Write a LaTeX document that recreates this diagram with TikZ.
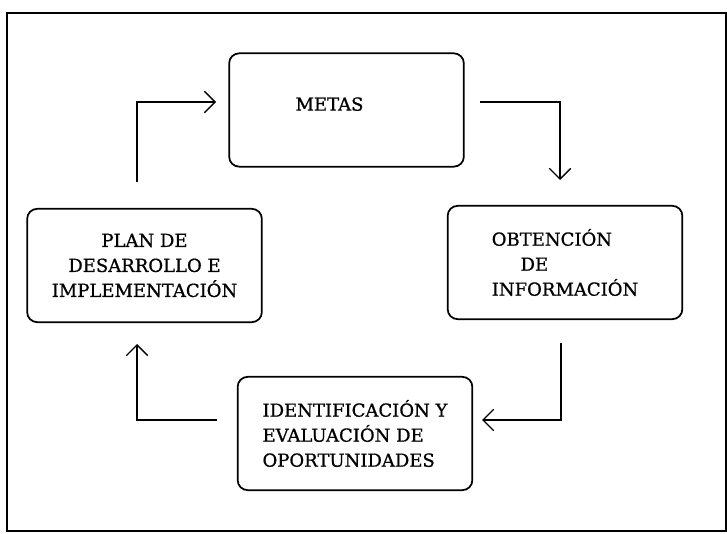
\documentclass[tikz,border=0pt]{standalone}
\usepackage{fontspec}
\setmainfont{DejaVu Serif}[FakeBold=0.8]
\usetikzlibrary{arrows.meta}

\tikzset{
  stage/.style={shape=rectangle,rounded corners=7.5pt,draw,line width=1.3pt,
    minimum width=176pt,minimum height=85pt,inner sep=0pt,
    font=\fontsize{13.5}{18.75}\selectfont},
  flow/.style={line width=1pt,-{Straight Barb[length=8pt,width=16pt]}}
}

\begin{document}
\begin{tikzpicture}[x=0.75pt,y=-0.75pt]
\useasboundingbox (0,0) rectangle (727,534);
\draw [line width=1.5pt] (7,13) rectangle (726,531);

\path (346.5,110) node (metas) [stage] {\raisebox{9pt}{METAS}\hspace*{25.5pt}};
\path (565,262.5) node (obtencion) [stage,align=left] {OBTENCIÓN\\\hspace*{1.6em}DE\\INFORMACIÓN};
\path (355,433.5) node (oportunidades) [stage,align=left] {IDENTIFICACIÓN Y\\EVALUACIÓN DE\\OPORTUNIDADES};
\path (144.5,265.5) node (plan) [stage,align=center] {PLAN DE\\DESARROLLO E\\IMPLEMENTACIÓN};

% loose ends of the connectors
\coordinate (plan out) at (137,182);
\coordinate (metas in) at (216,102);
\coordinate (metas out) at (480,102);
\coordinate (obtencion in) at (560,180);
\coordinate (obtencion out) at (561,343);
\coordinate (oportunidades in) at (482,420);
\coordinate (oportunidades out) at (217,420);
\coordinate (plan in) at (137,344);

\draw [flow] (plan out) |- (metas in);
\draw [flow] (metas out) -| (obtencion in);
\draw [flow] (obtencion out) |- (oportunidades in);
\draw [flow] (oportunidades out) -| (plan in);
\end{tikzpicture}
\end{document}
